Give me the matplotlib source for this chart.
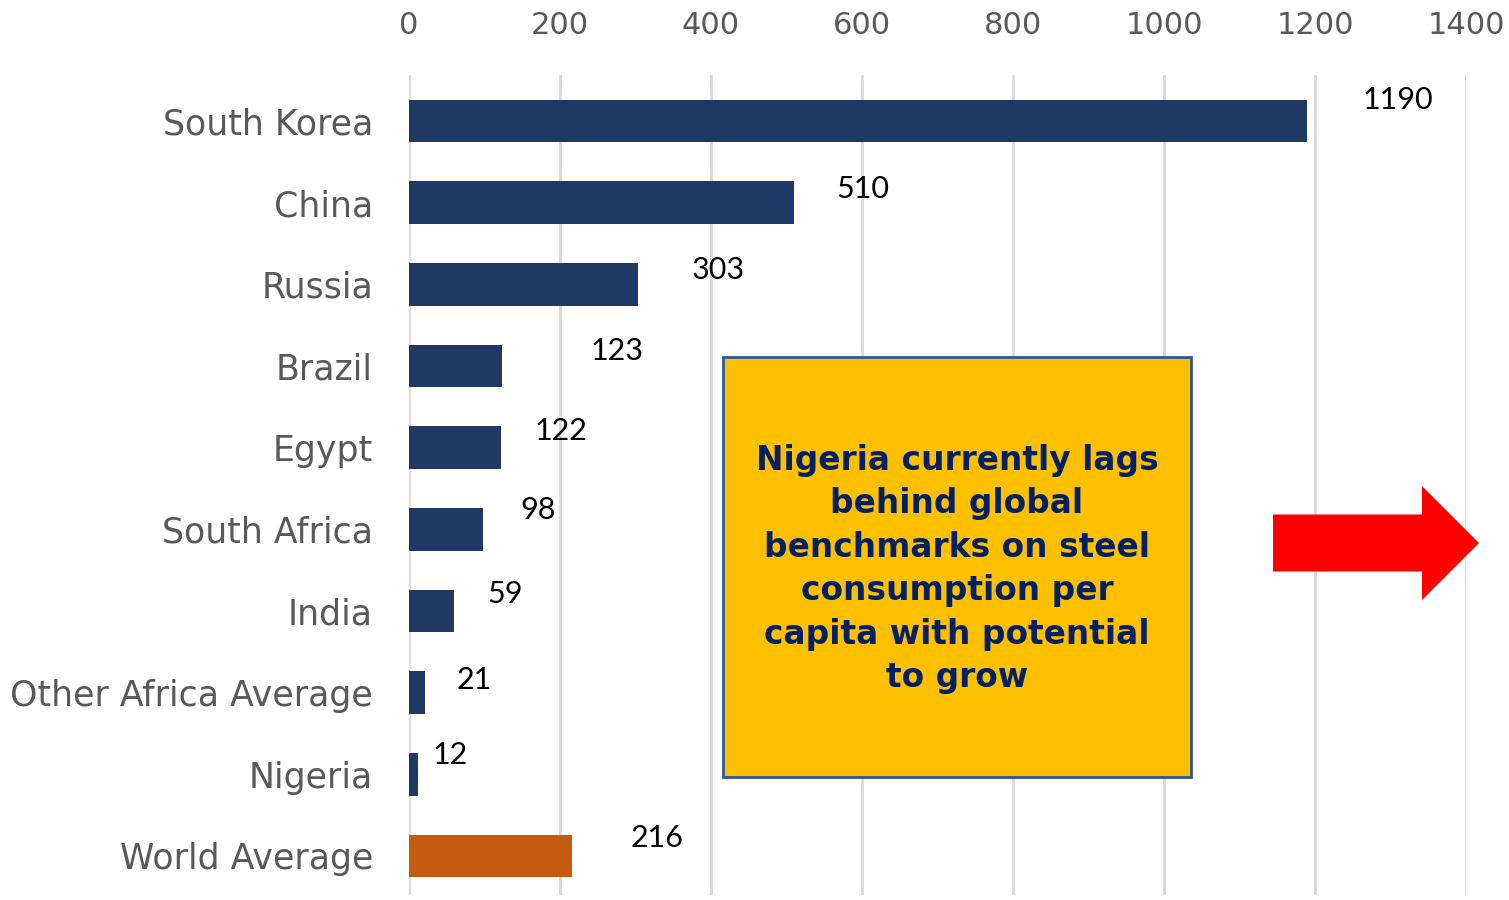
import matplotlib.pyplot as plt
from matplotlib.patches import Rectangle, FancyArrow

# steel consumption per capita (kg)
countries = ['South Korea', 'China', 'Russia', 'Brazil', 'Egypt', 'South Africa',
             'India', 'Other Africa Average', 'Nigeria', 'World Average']
consumption = [1190, 510, 303, 123, 122, 98, 59, 21, 12, 216]
x_ticks = [0, 200, 400, 600, 800, 1000, 1200, 1400]
callout = ('Nigeria currently lags\nbehind global\nbenchmarks on steel\n'
           'consumption per\ncapita with potential\nto grow')

# label placement (pixels from bar end), as in the original Excel export
label_dx = [55, 42, 54, 89, 33, 37, 34, 32, 15, 59]
label_dy = [21, 14, 14, 15, 17, 19, 17, 13, 19, 18]

navy = '#1F3864'
orange = '#C55A11'
bar_colors = [orange if c == 'World Average' else navy for c in countries]

fig = plt.figure(figsize=(15.09, 9), dpi=100)
ax = fig.add_axes([409 / 1509, 5 / 900, 1057 / 1509, 820 / 900])

pos = list(range(len(countries)))
ax.barh(pos, consumption, height=0.52, color=bar_colors, zorder=3)
ax.set_xlim(0, 1400)
ax.set_ylim(9.478, -0.563)

ax.xaxis.tick_top()
ax.set_xticks(x_ticks)
ax.set_xticklabels([str(t) for t in x_ticks], fontsize=22, color='#595959')
ax.tick_params(axis='x', length=0, pad=25)
ax.set_yticks(pos)
ax.set_yticklabels(countries, fontsize=25, color='#595959')
ax.tick_params(axis='y', length=0, pad=26)
ax.grid(axis='x', color='#D9D9D9', linewidth=2, zorder=0)
for s in ax.spines.values():
    s.set_visible(False)

for i, v in enumerate(consumption):
    ax.annotate(str(v), xy=(v, i), xytext=(label_dx[i], label_dy[i]),
                textcoords='offset pixels', ha='left', va='center',
                fontsize=22, family='Lato', color='black')

# callout box
box = Rectangle((723 / 1509, 1 - 777 / 900), 468 / 1509, 420 / 900,
                transform=fig.transFigure, facecolor='#FFC000',
                edgecolor='#2F5597', linewidth=2, zorder=5)
fig.add_artist(box)
fig.text(957 / 1509, 1 - 569 / 900, callout, ha='center', va='center',
         fontsize=23.7, fontweight='bold', color='#002060', linespacing=1.4,
         zorder=6)

# red arrow
arrow = FancyArrow(1273 / 1509, 1 - 543 / 900, 206 / 1509, 0,
                   width=57 / 900, head_width=114 / 900, head_length=57 / 1509,
                   length_includes_head=True, transform=fig.transFigure,
                   facecolor='#FF0000', edgecolor='none', zorder=5)
fig.add_artist(arrow)

fig.savefig('out.png', dpi=100)
